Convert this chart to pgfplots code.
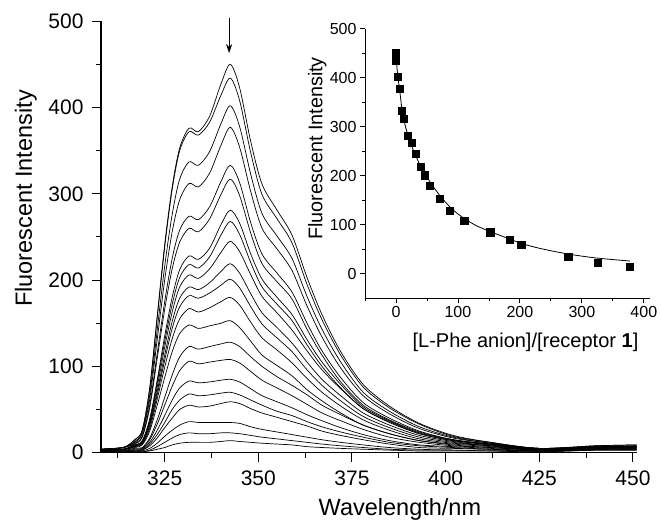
\documentclass[border=0pt]{standalone}
\usepackage{pgfplots}
\pgfplotsset{compat=1.18}
\usepackage{pgfplotstable}
\usetikzlibrary{arrows.meta}
\usepackage{fontspec}
\setmainfont{Liberation Sans}

\pgfplotstableread{
w c1 c2 c3 c4 c5 c6 c7 c8 c9 c10 c11 c12 c13 c14 c15 c16 c17 c18 c19 c20 c21
308 4 4 4 4 4 4 3 3 3 3 3 3 3 3 2 2 2 2 1 1 1
314 6 6 6 6 6 6 4 4 4 4 4 4 4 3 2 2 2 2 1 1 1
317 15 15 13 12 11 10 9 9 8 8 7 7 6 5 4 3 3 2 1 1 1
319 26 26 24 22 19 18 14 13 12 12 11 10 9 6 5 4 3 3 2 1 1
321 75 74 67 62 55 52 39 37 35 33 31 28 25 17 15 12 10 8 5 3 2
323 158 156 142 131 115 109 84 81 76 71 67 62 55 38 33 26 21 17 11 7 4
325 241 238 216 200 175 166 135 129 122 113 107 99 87 64 55 43 35 29 19 12 6
327 308 305 276 256 225 213 180 172 163 152 144 132 117 90 77 61 50 40 26 17 9
329 353 350 317 293 258 244 212 203 192 179 169 155 138 111 95 75 61 50 32 21 11
331.5 376 372 337 312 274 260 228 218 206 192 182 167 148 123 106 83 68 55 36 23 12
334 372 368 333 308 270 256 224 214 202 189 179 163 144 120 103 81 66 53 35 22 12
337 390 383 349 324 285 271 237 227 213 197 185 168 147 123 105 82 67 54 35 22 12
340 427 414 381 356 314 299 264 252 232 210 194 175 150 126 107 84 69 57 35 23 13
342.5 450 434 402 377 333 317 281 268 245 219 201 180 153 128 108 85 70 59 35 23 14
345 423 408 378 354 313 298 266 253 233 208 191 171 145 123 104 82 67 57 34 22 13
348 360 347 322 302 266 254 230 220 206 184 169 151 129 111 94 74 61 51 30 20 12
351 311 299 277 260 230 219 201 192 181 162 149 133 113 100 84 66 55 46 27 18 11
355 281 271 251 236 208 198 180 172 162 145 133 119 101 88 75 59 48 41 24 16 10
359 252 243 225 211 186 178 160 153 142 127 117 104 89 78 66 52 43 36 21 14 9
363 203 195 181 170 150 143 131 125 118 105 96 86 73 67 56 44 36 31 18 12 7
367 160 154 143 134 118 113 105 100 96 85 78 70 60 55 46 37 30 25 15 10 6
372 117 113 105 98 87 82 79 75 74 66 60 54 46 44 37 29 24 20 12 8 5
378 79 76 70 66 58 55 53 51 51 46 42 38 32 32 27 21 18 15 9 6 4
385 54 52 48 45 40 38 37 35 36 32 29 26 22 22 18 14 12 10 6 4 3
393 34 33 30 28 25 24 23 22 22 20 18 16 14 14 12 9 8 6 4 3 2
402 20 19 18 17 15 15 15 14 14 13 12 11 10 9 8 7 6 5 3 3 2
412 12 12 11 11 10 9 10 10 9 8 8 8 7 6 6 5 4 4 3 2 2
425 5 5 5 5 5 4 4 4 4 4 3 3 3 3 3 2 2 2 2 1 1
440 8 8 7 7 7 7 6 6 6 6 6 5 5 5 5 4 4 4 3 3 3
451 9 9 8 8 7 7 7 7 6 6 6 6 5 5 5 4 4 4 3 3 3
}\spectra

\pgfplotstableread{
x y
0 450
0 442
0 434
2.7 402
6 377
8.6 333
12.4 317
19 281
25 268
32 245
40 219
46.5 201
54.6 180
71 153
87 128
110 108
152 85
183 70
202 59
278 35
325 23
377 15
}\points

\pgfplotstableread{
x y
0 448
2 415
4 392
6 375
8 352
10 334
13 313
16 297
20 280
25 262
30 246
35 232
40 219
50 197
60 178
70 161
85 139
100 122
115 109
130 98
150 87
175 75
200 63
225 54
250 47
275 41
300 36
325 32
350 29
378 26
}\fit

\begin{document}
\begin{tikzpicture}
\begin{axis}[
  at={(0,0)}, anchor=south west,
  scale only axis, width=535.7bp, height=431.5bp,
  xmin=308, xmax=451, ymin=0, ymax=500,
  axis x line*=bottom, axis y line*=left,
  axis line style={line width=1.2bp, black},
  tick align=outside,
  major tick length=9bp, minor tick length=5bp,
  every tick/.style={line width=1bp, black},
  xtick={325,350,375,400,425,450},
  minor xtick={312.5,337.5,362.5,387.5,412.5,437.5},
  ytick={0,100,200,300,400,500},
  minor ytick={50,150,250,350,450},
  /pgf/number format/assume math mode=true,
  scaled ticks=false,
  ticklabel style={font=\fontsize{21bp}{25bp}\selectfont},
  xticklabel style={yshift=-6bp},
  yticklabel style={xshift=-5bp},
  xlabel={Wavelength/nm},
  ylabel={Fluorescent Intensity},
  xlabel style={at={(axis description cs:0.558,-0.1444)}, anchor=base, font=\fontsize{23.5bp}{28bp}\selectfont},
  ylabel style={at={(axis description cs:-0.1292,0.589)}, anchor=base, font=\fontsize{23.5bp}{28bp}\selectfont},
  clip=false,
]
\pgfplotsinvokeforeach{1,...,21}{
  \addplot[black, line width=0.7bp, smooth, tension=0.5] table[x=w, y=c#1] {\spectra};
}
\draw[-{Stealth[length=9bp,width=6bp]}, line width=0.9bp] (axis cs:342.2,504) -- (axis cs:342.2,463);
\end{axis}

\begin{axis}[
  at={(264bp,154.4bp)}, anchor=south west,
  scale only axis, width=285bp, height=269.6bp,
  xmin=-50, xmax=410, ymin=-50, ymax=500,
  axis x line*=bottom, axis y line*=left,
  axis line style={line width=1bp, black},
  tick align=outside,
  major tick length=5bp, minor tick length=3bp,
  every tick/.style={line width=0.8bp, black},
  xtick={0,100,200,300,400},
  minor xtick={-50,50,150,250,350},
  ytick={0,100,200,300,400,500},
  minor ytick={50,150,250,350,450},
  /pgf/number format/assume math mode=true,
  scaled ticks=false,
  ticklabel style={font=\fontsize{16bp}{19bp}\selectfont},
  xlabel={[L-Phe anion]/[receptor \textbf{1}]},
  ylabel={Fluorescent Intensity},
  xlabel style={at={(axis description cs:0.563,-0.1825)}, anchor=base, font=\fontsize{20bp}{24bp}\selectfont},
  ylabel style={at={(axis description cs:-0.150,0.5556)}, anchor=base, font=\fontsize{19.8bp}{24bp}\selectfont},
  clip=false,
]
\addplot[black, line width=0.8bp, smooth] table[x=x, y=y] {\fit};
\addplot[only marks, mark=square*, mark size=3.6bp, black] table[x=x, y=y] {\points};
\end{axis}
\pgfresetboundingbox
\useasboundingbox (-101bp,-71.3bp) rectangle (560bp,452.7bp);
\end{tikzpicture}
\end{document}
